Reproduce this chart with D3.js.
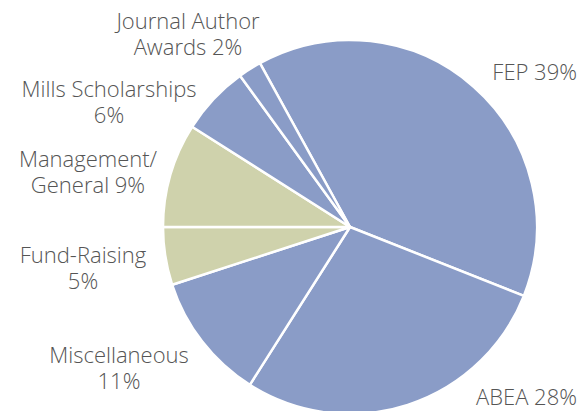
<!DOCTYPE html>
<html>
<head>
<meta charset="utf-8">
<script src="https://cdn.jsdelivr.net/npm/d3@7"></script>
<style>
  html, body { margin: 0; padding: 0; background: #fff; }
  svg { display: block; }
</style>
</head>
<body>
<svg id="chart"></svg>
<script>
// data
const categories = ["FEP", "ABEA", "Miscellaneous", "Fund-Raising", "Management/General", "Mills Scholarships", "Journal Author Awards"];
const values = [39, 28, 11, 5, 9, 6, 2];
const groups = ["program", "program", "program", "support", "support", "program", "program"];
const labelLines = [
    ["FEP 39%"],
    ["ABEA 28%"],
    ["Miscellaneous", "11%"],
    ["Fund-Raising", "5%"],
    ["Management/", "General 9%"],
    ["Mills Scholarships", "6%"],
    ["Journal Author", "Awards 2%"]
];

// layout
const width = 584;
const height = 411;
const cx = 350, cy = 227, radius = 187;
const labelPos = [
    { x: 577, y: 80, anchor: "end" },
    { x: 577, y: 405, anchor: "end" },
    { x: 119, y: 363, anchor: "middle" },
    { x: 83, y: 263, anchor: "middle" },
    { x: 88, y: 167, anchor: "middle" },
    { x: 109, y: 97, anchor: "middle" },
    { x: 188, y: 29, anchor: "middle" }
];

const color = d3.scaleOrdinal()
    .domain(["program", "support"])
    .range(["#8a9cc7", "#cfd2ac"]);

const svg = d3.select("#chart")
    .attr("width", width)
    .attr("height", height);

const g = svg.append("g")
    .attr("transform", `translate(${cx}, ${cy})`);

const startDeg = -28.8;
const pie = d3.pie()
    .sort(null)
    .value(d => d)
    .startAngle(startDeg * Math.PI / 180)
    .endAngle((startDeg + 360) * Math.PI / 180);

const arc = d3.arc()
    .innerRadius(0)
    .outerRadius(radius);

g.selectAll("path")
    .data(pie(values))
    .join("path")
    .attr("d", arc)
    .attr("fill", (d, i) => color(groups[i]))
    .attr("stroke", "#fff")
    .attr("stroke-width", 2.5)
    .attr("stroke-linejoin", "round");

// labels
const labels = svg.selectAll("text.slice-label")
    .data(labelLines)
    .join("text")
    .attr("class", "slice-label")
    .attr("x", (d, i) => labelPos[i].x)
    .attr("y", (d, i) => labelPos[i].y)
    .attr("text-anchor", (d, i) => labelPos[i].anchor)
    .style("font-family", "'Open Sans', 'Noto Sans', sans-serif")
    .style("font-weight", "300")
    .style("font-size", "22px")
    .style("fill", "#555");

labels.selectAll("tspan")
    .data((d, i) => d.map(t => ({ t, i })))
    .join("tspan")
    .attr("x", d => labelPos[d.i].x)
    .attr("dy", (d, j) => j === 0 ? 0 : 26)
    .text(d => d.t);
</script>
</body>
</html>
